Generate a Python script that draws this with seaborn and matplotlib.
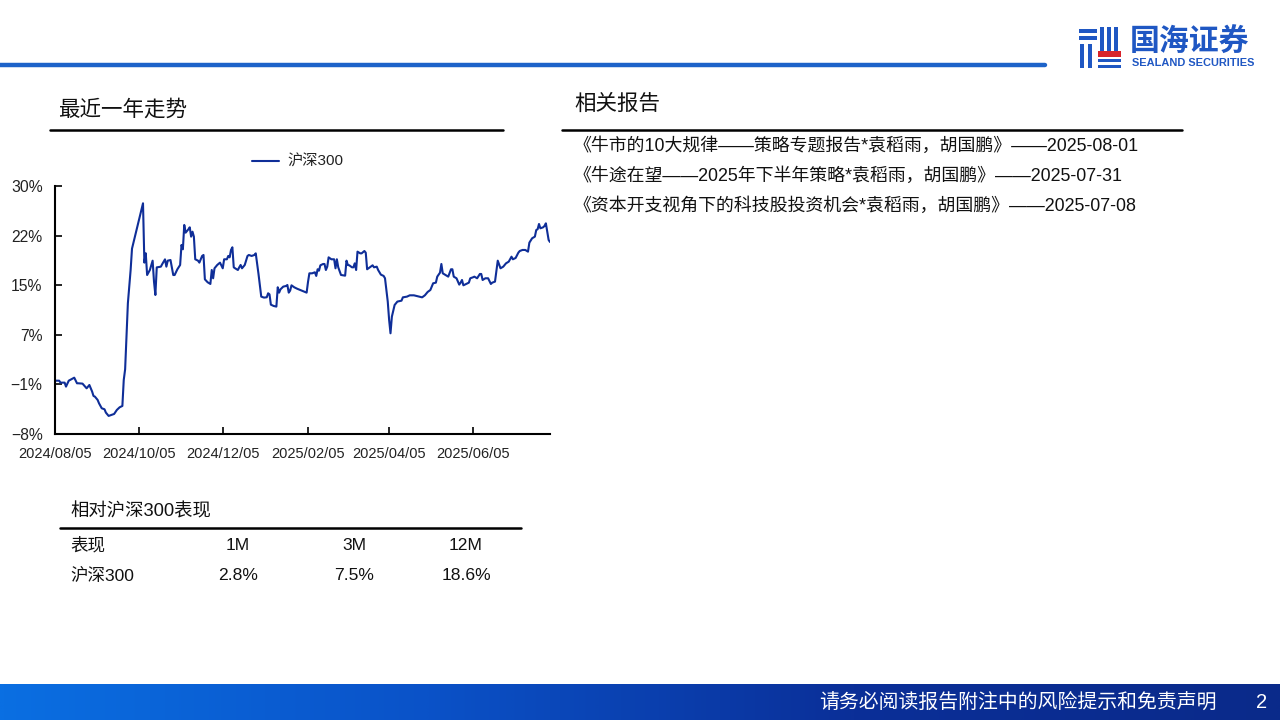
import numpy as np
import pandas as pd
import matplotlib
matplotlib.use("Agg")
import matplotlib.pyplot as plt
import matplotlib.dates as mdates
from matplotlib.colors import LinearSegmentedColormap
from matplotlib.patches import Rectangle
import seaborn as sns

# ---------------- data ----------------
dates = [
    "2024-08-05","2024-08-08","2024-08-09","2024-08-12","2024-08-13","2024-08-15","2024-08-19","2024-08-21",
    "2024-08-22","2024-08-25","2024-08-28","2024-08-30","2024-09-01","2024-09-02","2024-09-03","2024-09-05",
    "2024-09-06","2024-09-08","2024-09-10","2024-09-11","2024-09-13","2024-09-15","2024-09-17","2024-09-19",
    "2024-09-21","2024-09-23","2024-09-24","2024-09-25","2024-09-26","2024-09-27","2024-09-29","2024-09-30",
    "2024-10-08","2024-10-09","2024-10-10","2024-10-11","2024-10-13","2024-10-15","2024-10-16","2024-10-17",
    "2024-10-18","2024-10-21","2024-10-22","2024-10-24","2024-10-25","2024-10-26","2024-10-28","2024-10-30",
    "2024-10-31","2024-11-02","2024-11-04","2024-11-05","2024-11-06","2024-11-07","2024-11-08","2024-11-10",
    "2024-11-11","2024-11-12","2024-11-13","2024-11-14","2024-11-15","2024-11-17","2024-11-18","2024-11-20",
    "2024-11-21","2024-11-22","2024-11-24","2024-11-26","2024-11-27","2024-11-28","2024-11-29","2024-12-01",
    "2024-12-03","2024-12-05","2024-12-06","2024-12-08","2024-12-09","2024-12-10","2024-12-11","2024-12-12",
    "2024-12-13","2024-12-14","2024-12-16","2024-12-17","2024-12-18","2024-12-19","2024-12-21","2024-12-23",
    "2024-12-24","2024-12-26","2024-12-28","2024-12-29","2024-12-31","2025-01-02","2025-01-04","2025-01-06",
    "2025-01-07","2025-01-08","2025-01-09","2025-01-11","2025-01-13","2025-01-14","2025-01-15","2025-01-16",
    "2025-01-18","2025-01-20","2025-01-21","2025-01-22","2025-01-23","2025-01-24","2025-01-26","2025-01-28",
    "2025-02-04","2025-02-05","2025-02-06","2025-02-08","2025-02-10","2025-02-11","2025-02-12","2025-02-13",
    "2025-02-14","2025-02-16","2025-02-17","2025-02-18","2025-02-19","2025-02-20","2025-02-22","2025-02-24",
    "2025-02-25","2025-02-26","2025-02-27","2025-03-01","2025-03-04","2025-03-05","2025-03-06","2025-03-07",
    "2025-03-09","2025-03-10","2025-03-11","2025-03-12","2025-03-13","2025-03-15","2025-03-16","2025-03-18",
    "2025-03-19","2025-03-20","2025-03-22","2025-03-24","2025-03-25","2025-03-27","2025-03-28","2025-03-30",
    "2025-04-01","2025-04-02","2025-04-04","2025-04-05","2025-04-06","2025-04-07","2025-04-09","2025-04-11",
    "2025-04-14","2025-04-15","2025-04-18","2025-04-20","2025-04-23","2025-04-25","2025-04-29","2025-05-01",
    "2025-05-03","2025-05-05","2025-05-07","2025-05-09","2025-05-10","2025-05-12","2025-05-13","2025-05-14",
    "2025-05-16","2025-05-18","2025-05-20","2025-05-21","2025-05-22","2025-05-24","2025-05-26","2025-05-27",
    "2025-05-28","2025-05-29","2025-05-31","2025-06-02","2025-06-03","2025-06-05","2025-06-06","2025-06-08",
    "2025-06-10","2025-06-11","2025-06-12","2025-06-14","2025-06-16","2025-06-18","2025-06-19","2025-06-21",
    "2025-06-23","2025-06-25","2025-06-27","2025-06-29","2025-07-01","2025-07-03","2025-07-04","2025-07-06",
    "2025-07-08","2025-07-09","2025-07-11","2025-07-13","2025-07-15","2025-07-16","2025-07-18","2025-07-20",
    "2025-07-21","2025-07-22","2025-07-23","2025-07-24","2025-07-26","2025-07-27","2025-07-28","2025-07-30",
    "2025-07-31",
]
hs300 = [
    0.17,0.17,-0.13,-0.13,-0.74,0.17,0.63,-0.23,
    -0.23,-0.28,-1.00,-0.49,-1.50,-2.17,-2.27,-2.78,
    -3.29,-4.06,-4.21,-4.72,-5.23,-5.08,-4.93,-4.31,
    -3.91,-3.70,0.28,1.91,6.92,12.03,17.13,20.40,
    27.35,18.26,19.69,16.36,17.13,18.56,15.35,13.30,
    17.53,17.64,18.04,18.76,17.64,18.56,18.66,16.36,
    16.36,17.24,17.90,20.97,20.30,24.03,22.85,23.36,
    23.67,22.24,23.00,22.24,18.77,18.56,18.26,19.28,
    19.43,15.70,15.25,14.99,17.13,15.86,17.39,17.90,
    18.26,17.39,18.77,18.77,19.28,19.07,20.20,20.61,
    17.54,17.39,17.13,17.54,17.90,17.39,17.90,19.28,
    19.43,19.28,19.43,19.68,16.52,13.05,12.90,12.95,
    13.56,13.40,11.82,11.62,11.52,14.48,13.66,14.17,
    14.58,14.68,14.83,13.66,13.97,14.78,14.48,14.27,
    13.66,15.29,16.62,16.62,16.78,16.22,17.24,17.03,
    17.85,18.05,18.05,17.13,17.64,19.07,18.77,18.77,
    17.39,18.77,17.54,16.37,16.26,18.56,17.90,17.85,
    17.54,17.54,18.15,17.13,19.94,19.68,19.68,20.04,
    19.78,17.24,17.54,17.85,17.54,17.64,17.13,16.42,
    16.22,15.86,12.29,9.48,7.43,9.98,11.77,12.29,
    12.43,12.94,13.05,13.25,13.25,13.15,12.94,13.25,
    13.76,14.07,15.09,15.19,16.11,16.72,18.05,16.62,
    16.37,16.11,17.24,17.24,16.11,15.86,14.89,15.19,
    15.60,14.78,14.99,15.19,15.86,16.01,16.11,15.86,
    16.52,16.52,15.60,15.86,15.86,14.99,15.19,15.35,
    18.56,17.39,17.64,18.15,18.41,19.17,18.77,18.97,
    19.79,20.04,20.20,20.20,19.94,21.32,21.99,22.24,
    23.26,23.37,24.18,23.52,23.67,23.88,24.28,21.73,
    21.42,
]
series_name = "沪深300"
y_ticks = [-8.0, -0.4, 7.2, 14.8, 22.4, 30.0]
y_tick_labels = ["\u22128%", "\u22121%", "7%", "15%", "22%", "30%"]
x_ticks = ["2024-08-05", "2024-10-05", "2024-12-05", "2025-02-05", "2025-04-05", "2025-06-05"]
x_range = ["2024-08-05", "2025-07-31"]

chart_title = "最近一年走势"
reports_title = "相关报告"
reports = [
    "《牛市的10大规律——策略专题报告*袁稻雨，胡国鹏》——2025-08-01",
    "《牛途在望——2025年下半年策略*袁稻雨，胡国鹏》——2025-07-31",
    "《资本开支视角下的科技股投资机会*袁稻雨，胡国鹏》——2025-07-08",
]
table_title = "相对沪深300表现"
table_header = ["表现", "1M", "3M", "12M"]
table_row = ["沪深300", "2.8%", "7.5%", "18.6%"]
footer_text = "请务必阅读报告附注中的风险提示和免责声明"
page_no = "2"

# ---------------- style ----------------
sns.set_theme(style="ticks")
plt.rcParams["font.family"] = ["Liberation Sans", "Noto Sans CJK SC", "DejaVu Sans"]
plt.rcParams["axes.unicode_minus"] = True

W, H = 1280, 720
fig = plt.figure(figsize=(12.8, 7.2), dpi=100)
fig.patch.set_facecolor("white")

def fx(x):
    return x / W

def fy(y):
    return 1 - y / H

# ---------------- main chart ----------------
df = pd.DataFrame({"date": pd.to_datetime(dates), "value": hs300, "series": series_name})
ax = fig.add_axes([fx(55), fy(434), fx(550) - fx(55), fy(186) - fy(434)])
sns.lineplot(data=df, x="date", y="value", hue="series", palette=["#0f2e98"],
             linewidth=1.5, ax=ax)
ax.set_xlim(pd.Timestamp(x_range[0]), pd.Timestamp(x_range[1]))
ax.set_ylim(y_ticks[0], y_ticks[-1])
ax.set_yticks(y_ticks)
ax.set_yticklabels(y_tick_labels)
ax.set_xticks(pd.to_datetime(x_ticks))
ax.xaxis.set_major_formatter(mdates.DateFormatter("%Y/%m/%d"))
ax.set_xlabel("")
ax.set_ylabel("")
for s in ["top", "right"]:
    ax.spines[s].set_visible(False)
for s in ["left", "bottom"]:
    ax.spines[s].set_color("black")
    ax.spines[s].set_linewidth(1.5)
ax.tick_params(axis="both", direction="in", length=5, width=1.2, colors="black",
               labelcolor="#222222")
ax.tick_params(axis="y", pad=9, labelsize=11.3)
ax.tick_params(axis="x", pad=9, labelsize=10.5)
ax.set_facecolor("white")
leg = ax.legend(loc="center", bbox_to_anchor=(0.49, 1.097), frameon=False,
                handlelength=1.8, fontsize=11, handletextpad=0.5)
for t in leg.get_texts():
    t.set_color("#222222")

# ---------------- header ----------------
fig.add_artist(plt.Line2D([0, fx(1045)], [fy(65), fy(65)], color="#1d63c9", linewidth=3.2))

# logo icon
lg = fig.add_axes([fx(1077), fy(69), fx(46), fy(26) - fy(69)])
lg.set_xlim(0, 46)
lg.set_ylim(43, 0)
lg.axis("off")
blue = "#1f57c3"
red = "#d8232a"
for (x0, y0, w, h, c) in [
    (2, 3, 18, 4, blue), (2, 10, 18, 4, blue),
    (3, 18, 4, 24, blue), (11, 18, 4, 24, blue),
    (23, 1, 4, 24, blue), (30, 1, 4, 24, blue), (37, 1, 4, 24, blue),
    (21, 25, 23, 6, red),
    (21, 33, 23, 3, blue), (21, 39, 23, 3, blue),
]:
    lg.add_patch(Rectangle((x0, y0), w, h, color=c, lw=0))

fig.text(fx(1130), fy(42), "国海证券", fontsize=21.5, color="#1f57c3", fontweight="bold",
         va="center", ha="left", family=["Noto Sans CJK SC"])
fig.text(fx(1132), fy(63), "SEALAND SECURITIES", fontsize=7.9, color="#1f57c3",
         fontweight="bold", va="center", ha="left", family=["Liberation Sans Narrow", "Liberation Sans"])

# ---------------- section titles ----------------
fig.text(fx(58), fy(110), chart_title, fontsize=15.5, color="#111111", va="center", ha="left")
fig.add_artist(plt.Line2D([fx(50), fx(503)], [fy(130), fy(130)], color="black", linewidth=1.8))

fig.text(fx(574), fy(104), reports_title, fontsize=15.5, color="#111111", va="center", ha="left")
fig.add_artist(plt.Line2D([fx(562), fx(1182)], [fy(130), fy(130)], color="black", linewidth=1.8))
for i, r in enumerate(reports):
    fig.text(fx(574), fy(146 + 30 * i), r, fontsize=12.9, color="#111111", va="center", ha="left")

# ---------------- table ----------------
fig.text(fx(70), fy(512), table_title, fontsize=13.2, color="#111111", va="center", ha="left")
fig.add_artist(plt.Line2D([fx(60), fx(521)], [fy(528), fy(528)], color="black", linewidth=1.8))
col_x = [70, 238, 354, 466]
for j in range(4):
    ha = "left" if j == 0 else "center"
    fig.text(fx(col_x[j]), fy(545), table_header[j], fontsize=12.6, color="#111111", va="center", ha=ha)
    fig.text(fx(col_x[j]), fy(576), table_row[j], fontsize=12.6, color="#111111", va="center", ha=ha)

# ---------------- footer ----------------
fa = fig.add_axes([0, 0, 1, 36 / H])
cmap = LinearSegmentedColormap.from_list("ft", ["#0a6fe2", "#0a52c8", "#0b2f98", "#0a2a8a"])
grad = np.linspace(0, 1, 512).reshape(1, -1)
fa.imshow(grad, aspect="auto", cmap=cmap, extent=[0, 1, 0, 1])
fa.axis("off")
fig.text(fx(1217), fy(702), footer_text, fontsize=14.3, color="white", va="center", ha="right")
fig.text(fx(1262), fy(702), page_no, fontsize=14.5, color="white", va="center", ha="center")

fig.savefig("out.png", dpi=100)
